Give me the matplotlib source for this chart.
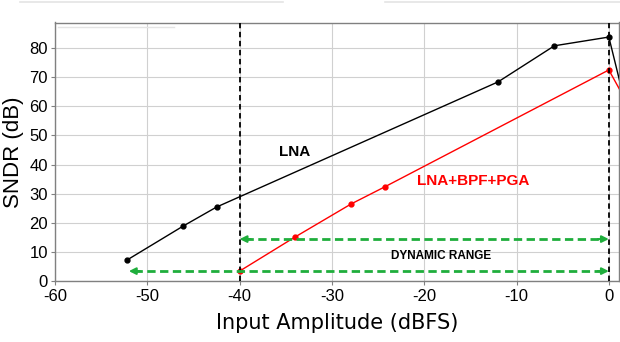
import matplotlib
matplotlib.use("Agg")
import matplotlib.pyplot as plt
from matplotlib.lines import Line2D

plt.rcParams["axes.unicode_minus"] = False

# Data
lna_x = [-52.2, -46.1, -42.5, -12.0, -5.9, 0.0]
lna_y = [7.2, 18.9, 25.4, 68.4, 80.8, 83.8]
lna_tail_x = [0.0, 2.0]
lna_tail_y = [83.8, 58.0]

chain_x = [-40.0, -34.0, -27.9, -24.3, 0.0]
chain_y = [3.4, 15.1, 26.5, 32.3, 72.5]
chain_tail_x = [0.0, 2.0]
chain_tail_y = [72.5, 61.0]

vlines_x = [-40, 0]
dr_top = (-40, 0, 14.4)
dr_bottom = (-52, 0, 3.4)

xticks = [-60, -50, -40, -30, -20, -10, 0]
yticks = [0, 10, 20, 30, 40, 50, 60, 70, 80]

fig = plt.figure(figsize=(6.2, 3.42), dpi=100)
ax = fig.add_axes([55/620, 1-281/342, (619-55)/620, (281-22.5)/342])

ax.set_xlim(-60, 1.1)
ax.set_ylim(0, 88.8)
ax.set_xticks(xticks)
ax.set_yticks(yticks)
ax.grid(True, color="#d0d0d0", lw=0.8)
ax.set_axisbelow(True)
for s in ax.spines.values():
    s.set_color("#808080")
    s.set_linewidth(1.0)
ax.tick_params(axis="both", labelsize=12, length=3, color="#808080")
ax.tick_params(axis="y", pad=2)
ax.tick_params(axis="x", pad=3)
for lab in ax.get_xticklabels() + ax.get_yticklabels():
    lab.set_fontfamily("Liberation Sans")

ax.plot(lna_x, lna_y, color="black", lw=1.0, marker="o", ms=3.5, zorder=3)
ax.plot(lna_tail_x, lna_tail_y, color="black", lw=1.0, zorder=3)
ax.plot(chain_x, chain_y, color="red", lw=1.0, marker="o", ms=3.5, zorder=3)
ax.plot(chain_tail_x, chain_tail_y, color="red", lw=1.0, zorder=3)

for xv in vlines_x:
    ax.axvline(xv, color="black", ls=(0, (3, 2)), lw=1.3, zorder=4)

green = "#1fae3c"
for (x0, x1, yv) in [dr_top, dr_bottom]:
    ax.plot([x0 + 0.6, x1 - 0.6], [yv, yv], color=green, lw=2,
            ls=(0, (3, 1.6)), zorder=5)
    for xa, xb in [(x0, x0 + 1.2), (x1, x1 - 1.2)]:
        ax.annotate("", xy=(xa, yv), xytext=(xb, yv),
                    arrowprops=dict(arrowstyle="-|>", color=green, lw=1.5,
                                    mutation_scale=10, shrinkA=0, shrinkB=0),
                    zorder=5)

ax.text(-34, 44.3, "LNA", fontsize=11, fontweight="bold", color="black",
        ha="center", va="center", family="Liberation Sans")
ax.text(-14.7, 34.4, "LNA+BPF+PGA", fontsize=11, fontweight="bold", color="red",
        ha="center", va="center", family="Liberation Sans")
ax.text(-18.2, 8.6, "DYNAMIC RANGE", fontsize=8.5, fontweight="bold", color="black",
        ha="center", va="center", family="Liberation Sans")

ax.set_xlabel("Input Amplitude (dBFS)", fontsize=15, family="DejaVu Sans", labelpad=6)
ax.set_ylabel("SNDR (dB)", fontsize=16, family="Liberation Sans", labelpad=4)

# faint artifact lines
fig.add_artist(Line2D([20/620, 283/620], [1-2/342, 1-2/342], color="#e4e4e4", lw=1.2))
fig.add_artist(Line2D([385/620, 1.0], [1-2/342, 1-2/342], color="#e4e4e4", lw=1.2))
fig.add_artist(Line2D([58/620, 174/620], [1-27/342, 1-27/342], color="#e4e4e4", lw=1.0))

fig.savefig("out.png", dpi=100)
